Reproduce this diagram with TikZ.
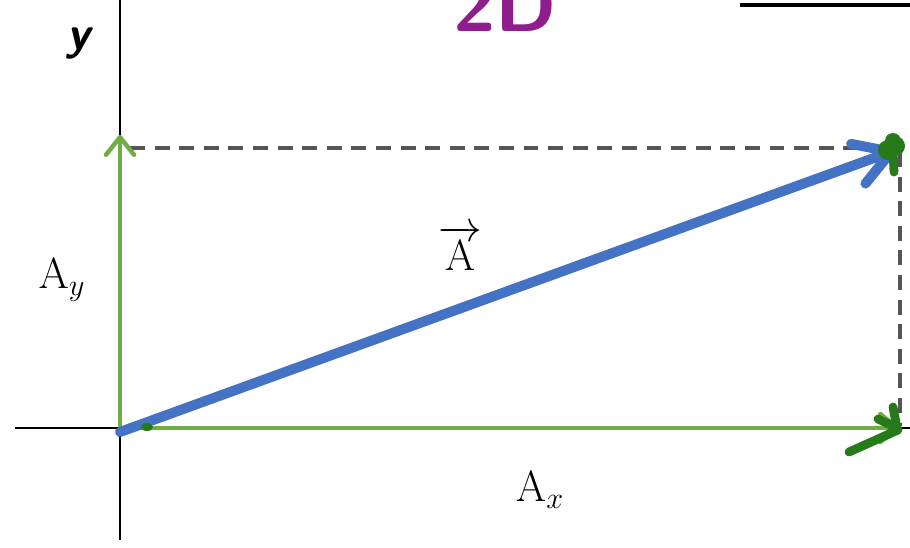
\documentclass[tikz,border=0pt]{standalone}
\usepackage{amsmath}
\usepackage{tikz}
\usetikzlibrary{arrows.meta}
\definecolor{compgreen}{HTML}{70AD47}
\definecolor{vecblue}{HTML}{4472C4}
\definecolor{inkgreen}{HTML}{267A1A}
\definecolor{inkpurple}{HTML}{8E1E8C}
\definecolor{guidegray}{HTML}{555555}

\begin{document}
\begin{tikzpicture}[x=0.02cm,y=-0.02cm,font=\fontsize{27}{31}\selectfont,
 comp/.style={compgreen,line width=2.5pt,-{Straight Barb[length=10pt,width=16pt,round]}},
 guide/.style={guidegray,line width=2.3pt,dash pattern=on 8.5pt off 5.5pt},
 ink/.style={inkgreen,line width=5pt,line cap=round}]
 \useasboundingbox (0,0) rectangle (910,548);
 \clip (0,0) rectangle (910,548);
 \coordinate (O) at (120,428); \coordinate (Ostart) at (120,432);
 \coordinate (tipX) at (900,428); \coordinate (tipY) at (120,135);
 \coordinate (tipA) at (896,150);
 % axes and the stray line at the top
 \draw[line width=1.1pt] (120,0) -- (120,540) (15,428) -- (910,428);
 \draw[line width=2.3pt] (740,5) -- (910,5);
 % projections of the vector
 \draw[guide] (130,148) -- (890,148);
 \draw[guide] (900,152) -- (900,426);
 \draw[comp] (O) -- (tipY);
 \draw[comp] (O) -- (tipX);
 \draw[vecblue,line width=5.7pt,line cap=round,-{Straight Barb[length=20pt,width=24pt,round]}] (Ostart) -- (tipA);
 % hand-drawn marks
 \fill[inkgreen] (147,427) ellipse (6 and 4);
 \draw[ink] (849,452) -- (898,430) (893,407) -- (897,428) (878,419) -- (897,428);
 \fill[inkgreen] (888,150) circle (10) (895,146) circle (10) (893,141) circle (8);
 \draw[ink] (893,150) -- (894,172);
 % labels
 \node (ylab) at (78,43) {\fontsize{27}{30}\selectfont\sffamily\bfseries\itshape y};
 \node[inkpurple,anchor=base] (title) at (505,31) {\fontsize{44}{48}\selectfont\sffamily\bfseries 2D};
 \node (Ay) at (62,280) {$\mathrm{A}_y$};
 \node (Avec) at (460,248) {$\overrightarrow{\mathrm{A}}$};
 \node (Ax) at (540,490) {$\mathrm{A}_x$};
\end{tikzpicture}
\end{document}
